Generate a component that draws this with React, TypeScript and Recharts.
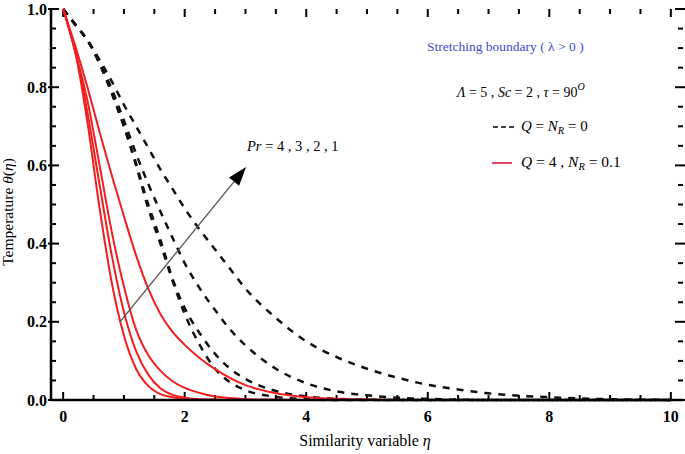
import { Line, LineChart, ReferenceLine, XAxis, YAxis } from 'recharts';

// similarity variable grid
const eta = [0, 0.2, 0.4, 0.6, 0.8, 1.0, 1.2, 1.4, 1.6, 1.8, 2.0, 2.25, 2.5, 2.75, 3.0, 3.5, 4.0, 4.5, 5.0, 5.5, 6.0, 6.5, 7.0, 7.5, 8.0, 8.5, 9.0, 9.5, 10.0];

// Q = 4, NR = 0.1 (solid red), plotted up to eta = 5.5
const redPr4 = [1, 0.89, 0.71, 0.49, 0.3, 0.165, 0.08, 0.036, 0.015, 0.007, 0.003, 0.001, 0, 0, 0, 0, 0, 0, 0, 0];
const redPr3 = [1, 0.89, 0.735, 0.55, 0.37, 0.225, 0.125, 0.065, 0.03, 0.013, 0.006, 0.002, 0.001, 0, 0, 0, 0, 0, 0, 0];
const redPr2 = [1, 0.89, 0.765, 0.6, 0.43, 0.29, 0.18, 0.115, 0.075, 0.048, 0.031, 0.018, 0.009, 0.005, 0.002, 0.001, 0, 0, 0, 0];
const redPr1 = [1, 0.905, 0.8, 0.685, 0.575, 0.47, 0.37, 0.285, 0.22, 0.174, 0.141, 0.107, 0.079, 0.056, 0.038, 0.017, 0.007, 0.003, 0.001, 0];

// Q = NR = 0 (dashed black)
const dashPr4 = [1, 0.96, 0.92, 0.86, 0.785, 0.7, 0.6, 0.49, 0.4, 0.305, 0.22, 0.14, 0.08, 0.045, 0.025, 0.008, 0.002, 0, 0, 0, 0, 0, 0, 0, 0, 0, 0, 0, 0];
const dashPr3 = [1, 0.96, 0.92, 0.86, 0.785, 0.7, 0.605, 0.5, 0.41, 0.31, 0.235, 0.17, 0.118, 0.08, 0.054, 0.023, 0.009, 0.003, 0.001, 0, 0, 0, 0, 0, 0, 0, 0, 0, 0];
const dashPr2 = [1, 0.96, 0.92, 0.865, 0.795, 0.715, 0.63, 0.553, 0.482, 0.415, 0.35, 0.285, 0.23, 0.18, 0.14, 0.08, 0.043, 0.022, 0.012, 0.006, 0.003, 0.001, 0, 0, 0, 0, 0, 0, 0];
const dashPr1 = [1, 0.96, 0.92, 0.87, 0.815, 0.755, 0.7, 0.645, 0.59, 0.54, 0.49, 0.435, 0.385, 0.335, 0.285, 0.21, 0.15, 0.11, 0.08, 0.057, 0.039, 0.027, 0.017, 0.011, 0.007, 0.004, 0.002, 0.001, 0];

const xMajor = [0, 2, 4, 6, 8, 10];
const xTicks = [0, 0.5, 1, 1.5, 2, 2.5, 3, 3.5, 4, 4.5, 5, 5.5, 6, 6.5, 7, 7.5, 8, 8.5, 9, 9.5, 10];
const yMajor = [0, 0.2, 0.4, 0.6, 0.8, 1];
const yTicks = [0, 0.05, 0.1, 0.15, 0.2, 0.25, 0.3, 0.35, 0.4, 0.45, 0.5, 0.55, 0.6, 0.65, 0.7, 0.75, 0.8, 0.85, 0.9, 0.95, 1];

// Pr arrow, in data units
const arrowFrom = { x: 0.935, y: 0.2 };
const arrowTo = { x: 3.01, y: 0.596 };

const rows = eta.map((e, i) => ({
  eta: e,
  r4: redPr4[i],
  r3: redPr3[i],
  r2: redPr2[i],
  r1: redPr1[i],
  d4: dashPr4[i],
  d3: dashPr3[i],
  d2: dashPr2[i],
  d1: dashPr1[i],
}));

const SERIF = "'Liberation Serif', 'DejaVu Serif', serif";
const RED = '#f21d1f';

const isMajor = (list: number[], v: number) => list.some((m) => Math.abs(m - v) < 1e-6);

function BottomLabel({ x, y, payload }: any) {
  if (!isMajor(xMajor, payload.value)) return <g />;
  return (
    <text x={x} y={y + 22} textAnchor="middle" fontFamily={SERIF} fontWeight="bold" fontSize={16} fill="#000">
      {payload.value}
    </text>
  );
}

function LeftLabel({ x, y, payload }: any) {
  if (!isMajor(yMajor, payload.value)) return <g />;
  return (
    <text x={x - 4} y={y + 5.5} textAnchor="end" fontFamily={SERIF} fontWeight="bold" fontSize={16} fill="#000">
      {payload.value.toFixed(1)}
    </text>
  );
}

// frame ticks: a reference line across the plot, drawn only as short stubs at both ends
const xStub = (major: boolean) => (p: any) => {
  const { x1, y1, y2 } = p;
  const top = Math.min(y1, y2);
  const bot = Math.max(y1, y2);
  const len = major ? 8 : 5;
  return (
    <g>
      <line x1={x1} x2={x1} y1={bot} y2={bot - len} stroke="#000" strokeWidth={2} />
      <line x1={x1} x2={x1} y1={top} y2={top + len} stroke="#000" strokeWidth={2} />
    </g>
  );
};

const yStub = (major: boolean) => (p: any) => {
  const { x1, x2, y1 } = p;
  const l = Math.min(x1, x2);
  const r = Math.max(x1, x2);
  const len = major ? 8 : 5;
  const out = major ? 3 : 0;
  return (
    <g>
      <line x1={l - out} x2={l + len} y1={y1} y2={y1} stroke="#000" strokeWidth={2} />
      <line x1={r + out} x2={r - len} y1={y1} y2={y1} stroke="#000" strokeWidth={2} />
    </g>
  );
};

function arrowShape(p: any) {
  const { x1, y1, x2, y2 } = p;
  const a = Math.atan2(y2 - y1, x2 - x1);
  const L = 19;
  const W = 6.5;
  const bx = x2 - L * Math.cos(a);
  const by = y2 - L * Math.sin(a);
  const px = -Math.sin(a) * W;
  const py = Math.cos(a) * W;
  return (
    <g>
      <line x1={x1} y1={y1} x2={bx} y2={by} stroke="#555" strokeWidth={1.3} />
      <polygon points={`${x2},${y2} ${bx + px},${by + py} ${bx - px},${by - py}`} fill="#000" />
    </g>
  );
}

export default function App() {
  return (
    <div style={{ position: 'relative', width: 685, height: 454, background: '#fff' }}>
      <style>{'body{margin:0}'}</style>
      <LineChart width={685} height={454} data={rows} margin={{ top: 9, right: 2, bottom: 0, left: 0 }}>
        <XAxis
          dataKey="eta"
          type="number"
          domain={[-0.2, 10.2]}
          ticks={xTicks}
          interval={0}
          height={54}
          tickSize={0}
          tickMargin={0}
          tickLine={false}
          axisLine={{ stroke: '#000', strokeWidth: 2.5 }}
          tick={<BottomLabel />}
        />
        <XAxis
          xAxisId="top"
          orientation="top"
          dataKey="eta"
          type="number"
          domain={[-0.2, 10.2]}
          allowDataOverflow
          height={0}
          tick={false}
          tickLine={false}
          axisLine={{ stroke: '#000', strokeWidth: 1.6 }}
        />
        <YAxis
          type="number"
          domain={[0, 1]}
          ticks={yTicks}
          interval={0}
          width={51}
          tickSize={0}
          tickMargin={0}
          tickLine={false}
          axisLine={{ stroke: '#000', strokeWidth: 2.5 }}
          tick={<LeftLabel />}
        />
        <YAxis
          yAxisId="right"
          orientation="right"
          type="number"
          domain={[0, 1]}
          allowDataOverflow
          width={0}
          tick={false}
          tickLine={false}
          axisLine={{ stroke: '#000', strokeWidth: 2 }}
        />
        {xTicks.map((v) => (
          <ReferenceLine key={`xt${v}`} x={v} shape={xStub(isMajor(xMajor, v))} ifOverflow="visible" />
        ))}
        {yTicks.map((v) => (
          <ReferenceLine key={`yt${v}`} y={v} shape={yStub(isMajor(yMajor, v))} ifOverflow="visible" />
        ))}
        {['d1', 'd2', 'd3', 'd4'].map((k) => (
          <Line
            key={k}
            dataKey={k}
            type="monotone"
            stroke="#111"
            strokeWidth={2.5}
            strokeDasharray="7 7"
            dot={false}
            isAnimationActive={false}
          />
        ))}
        {['r1', 'r2', 'r3', 'r4'].map((k) => (
          <Line key={k} dataKey={k} type="monotone" stroke={RED} strokeWidth={2} dot={false} isAnimationActive={false} />
        ))}
        <ReferenceLine segment={[arrowFrom, arrowTo]} shape={arrowShape} ifOverflow="visible" />
      </LineChart>
      <svg width={685} height={454} style={{ position: 'absolute', left: 0, top: 0, pointerEvents: 'none' }} fontFamily={SERIF}>
        <text x={427} y={51} fill="#3d4ad0" fontSize={13.5}>
          Stretching boundary ( λ &gt; 0 )
        </text>
        <text x={457} y={97} fontSize={14} fill="#000">
          <tspan fontStyle="italic">Λ</tspan> = 5 , <tspan fontStyle="italic">Sc</tspan> = 2 , <tspan fontStyle="italic">τ</tspan> = 90
          <tspan dy={-7} fontSize={10} fontStyle="italic">O</tspan>
        </text>
        <line x1={493} x2={516} y1={127} y2={127} stroke="#000" strokeWidth={1.5} strokeDasharray="5 3" />
        <text x={521} y={131} fontSize={15} fill="#000">
          <tspan fontStyle="italic">Q</tspan> = <tspan fontStyle="italic">N</tspan>
          <tspan dy={3} fontSize={10.5} fontStyle="italic">R</tspan>
          <tspan dy={-3}> = 0</tspan>
        </text>
        <line x1={492} x2={512} y1={163} y2={163} stroke="#e2476a" strokeWidth={2} />
        <text x={521} y={167} fontSize={15.5} fill="#000">
          <tspan fontStyle="italic">Q</tspan> = 4 , <tspan fontStyle="italic">N</tspan>
          <tspan dy={3} fontSize={10.5} fontStyle="italic">R</tspan>
          <tspan dy={-3}> = 0.1</tspan>
        </text>
        <text x={247} y={151} fontSize={14.5} fill="#000">
          <tspan fontStyle="italic">Pr</tspan> = 4 , 3 , 2 , 1
        </text>
        <text x={365} y={446} textAnchor="middle" fontSize={16} fill="#000">
          Similarity variable <tspan fontStyle="italic">η</tspan>
        </text>
        <text transform="translate(13,212) rotate(-90)" textAnchor="middle" fontSize={15.5} fill="#000">
          Temperature <tspan fontStyle="italic">θ</tspan>(<tspan fontStyle="italic">η</tspan>)
        </text>
      </svg>
    </div>
  );
}
